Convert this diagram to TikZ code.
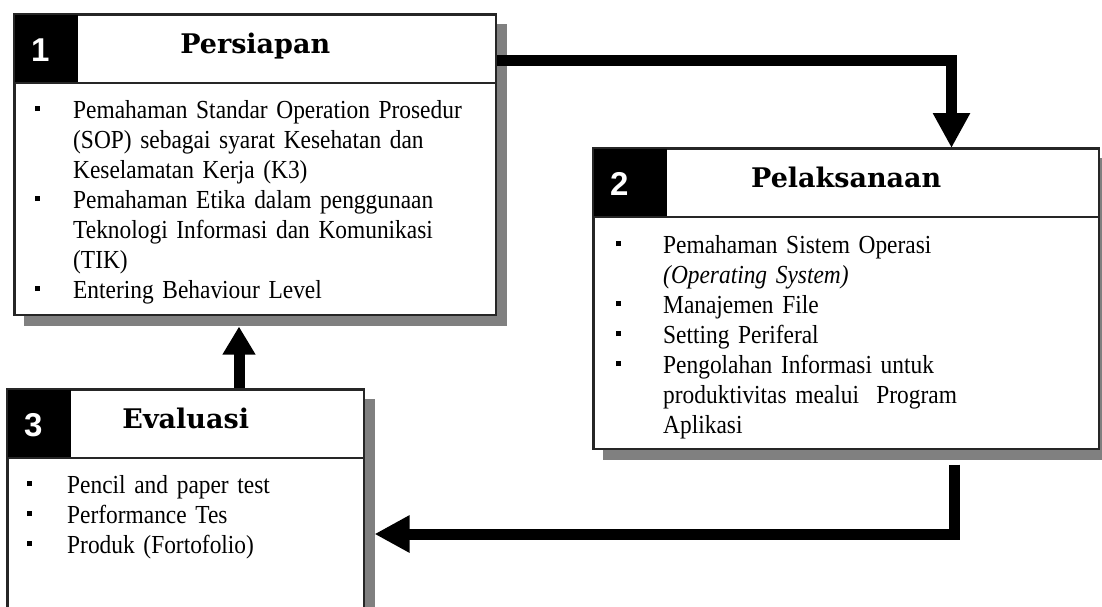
\documentclass[tikz,border=0pt]{standalone}
\usepackage{fontspec}
\setmainfont{Liberation Serif}[FakeStretch=0.9,WordSpace=0.8]
\newfontfamily\titlefont{DejaVu Serif}
\newfontfamily\numfont{Liberation Sans}
\usetikzlibrary{arrows.meta,calc,backgrounds}
\newcommand\bitem[2]{\par\noindent\hangindent=#1\hangafter=1\makebox[#1][l]{\rule[7pt]{5pt}{5pt}}#2\par}
\begin{document}
\begin{tikzpicture}[x=1pt,y=-1pt,
  box/.style={draw=black!85, line width=1.5pt, fill=white, inner sep=0pt, anchor=north west},
  shadowbox/.style={fill=black!50, draw=none},
  conn/.style={line width=11pt, -{Triangle[width=35pt,length=35pt]}},
  headline/.style={draw=black!85, line width=1.5pt},
  numbox/.style={fill=black},
  numtext/.style={font=\numfont\bfseries\fontsize{33}{33}\selectfont, text=white, inner sep=0pt, anchor=base west},
  titletext/.style={font=\titlefont\bfseries\fontsize{27}{27}\selectfont, inner sep=0pt, anchor=base},
  itemtext/.style={font=\fontsize{26}{30}\selectfont, inner sep=0pt, anchor=base west, text width=470pt}
]
\clip (0,0) rectangle (1102,606);

% boxes
\node[box, minimum width=481pt, minimum height=300pt] (box1) at (14,14) {};
\node[box, minimum width=505pt, minimum height=300pt] (box2) at (593,148) {};
\node[box, minimum width=356pt, minimum height=300pt] (box3) at (7,389) {};

\begin{scope}[on background layer]
  \fill[white] (0,0) rectangle (1102,606);
  \foreach \b in {box1,box2,box3}{
    \fill[shadowbox] ($(\b.north west)+(10,10)$) rectangle ($(\b.south east)+(10,10)$);
  }
  \coordinate (c1a) at ($(box1.north east)+(0,46)$);
  \coordinate (c1b) at ($(box2.north east)+(-148,0)$);
  \draw[conn] (c1a) -| (c1b);
  \coordinate (c2a) at ($(box2.south east)+(-145,15)$);
  \coordinate (c2b) at ($(box3.north east)+(10,145)$);
  \draw[conn] (c2a) |- (c2b);
  \coordinate (c3a) at ($(box3.north west)+(232,0)$);
  \coordinate (c3b) at ($(box1.south west)+(225,11)$);
  \draw[line width=11pt, -{Triangle[width=31pt,length=28pt]}] (c3a) -- (c3b);
\end{scope}

% headers
\foreach \b/\w/\n in {box1/64/1, box2/74/2, box3/64/3}{
  \fill[numbox] (\b.north west) rectangle ($(\b.north west)+(\w,69)$);
  \draw[headline] ($(\b.north west)+(0,69)$) -- ($(\b.north east)+(0,69)$);
  \draw[draw=black!85, line width=1.5pt] (\b.north west) rectangle (\b.south east);
  \node[numtext] (num\n) at ($(\b.north west)+(17,47)$) {\n};
}
\node[titletext] (title1) at ($(box1.north)+(0,39.5)$) {Persiapan};
\node[titletext] (title2) at ($(box2.north)+(0,39.5)$) {Pelaksanaan};
\node[titletext] (title3) at ($(box3.north)+(0,39.5)$) {Evaluasi};

% item texts
\begin{scope}
  \clip (box1.north west) rectangle ($(box1.south east)+(0,-12)$);
  \node[itemtext] (items1) at ($(box1.north west)+(21,74)$) {\raggedright
    \bitem{38pt}{Pemahaman Standar Operation Prosedur\newline(SOP) sebagai syarat Kesehatan dan\newline Keselamatan Kerja (K3)}
    \bitem{38pt}{Pemahaman Etika dalam penggunaan\newline Teknologi Informasi dan Komunikasi\newline(TIK)}
    \bitem{38pt}{Entering Behaviour Level}};
\end{scope}
\begin{scope}
  \clip (box2.north west) rectangle ($(box2.south east)+(0,-11)$);
  \node[itemtext] (items2) at ($(box2.north west)+(23,75)$) {\raggedright
    \bitem{47pt}{Pemahaman Sistem Operasi\newline\textit{(Operating System)}}
    \bitem{47pt}{Manajemen File}
    \bitem{47pt}{Setting Periferal}
    \bitem{47pt}{Pengolahan Informasi untuk\newline produktivitas mealui\ \ Program\newline Aplikasi}};
\end{scope}
\node[itemtext] (items3) at ($(box3.north west)+(20,74)$) {\raggedright
  \bitem{40pt}{Pencil and paper test}
  \bitem{40pt}{Performance Tes}
  \bitem{40pt}{Produk (Fortofolio)}};
\end{tikzpicture}
\end{document}
